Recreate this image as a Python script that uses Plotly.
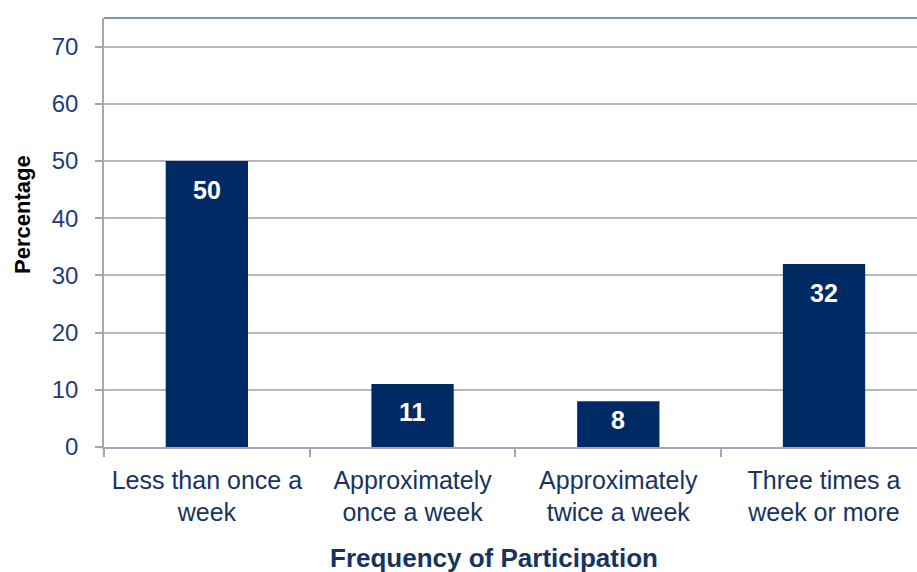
import plotly.graph_objects as go

# Survey results: how often respondents take part
categories = [
    "Less than once a<br>week",
    "Approximately<br>once a week",
    "Approximately<br>twice a week",
    "Three times a<br>week or more",
]
percentages = [50, 11, 8, 32]
y_ticks = [0, 10, 20, 30, 40, 50, 60, 70]

BAR = "#002a64"
TICK_BLUE = "#1f3d78"
TITLE_BLUE = "#17335f"
GRID = "#b4b7c6"
FONT = "Liberation Sans, Arial, sans-serif"

# vertical offset (px) of each value label below its bar top
label_shift = [-29, -28, -19, -29]

fig = go.Figure()
fig.add_trace(go.Bar(
    x=categories,
    y=percentages,
    width=0.4,
    marker=dict(color=BAR, line=dict(width=0)),
    hoverinfo="skip",
))

for cat, val, dy in zip(categories, percentages, label_shift):
    fig.add_annotation(
        x=cat, y=val, text=f"<b>{val}</b>", showarrow=False,
        yanchor="middle", yshift=dy,
        font=dict(family=FONT, size=25, color="white"),
    )

# axis titles
fig.add_annotation(
    x=0.48, y=-0.258, xref="paper", yref="paper",
    text="<b>Frequency of Participation</b>", showarrow=False,
    xanchor="center", yanchor="middle",
    font=dict(family=FONT, size=26, color=TITLE_BLUE),
)
fig.add_annotation(
    x=-0.0996, y=0.541, xref="paper", yref="paper",
    text="<b>Percentage</b>", showarrow=False, textangle=-90,
    xanchor="center", yanchor="middle",
    font=dict(family=FONT, size=22, color="black"),
)

# top border of the plot area
fig.add_shape(
    type="line", xref="paper", yref="paper", x0=0, x1=1, y0=1, y1=1,
    line=dict(color="#56709e", width=1.5),
)

fig.update_layout(
    width=917, height=572,
    margin=dict(l=104, r=0, t=18, b=125),
    plot_bgcolor="white", paper_bgcolor="white",
    showlegend=False,
    xaxis=dict(
        type="category",
        range=[-0.5, 3.452],
        tickson="boundaries",
        ticks="outside", ticklen=8, tickcolor="#a3a6b8", tickwidth=1.5,
        showline=True, linecolor="#a3a6b8", linewidth=1.5,
        showgrid=False,
        tickfont=dict(family=FONT, size=25, color=TITLE_BLUE),
        ticklabelstandoff=10,
    ),
    yaxis=dict(
        range=[0, 75],
        tickvals=y_ticks,
        ticks="outside", ticklen=7, tickcolor="#a3a6b8", tickwidth=1.5,
        showline=True, linecolor="#a3a6b8", linewidth=1.5,
        showgrid=True, gridcolor=GRID, gridwidth=1.5,
        zeroline=False,
        tickfont=dict(family=FONT, size=24, color=TICK_BLUE),
        ticklabelstandoff=12,
    ),
)

fig.write_html("out.html")
